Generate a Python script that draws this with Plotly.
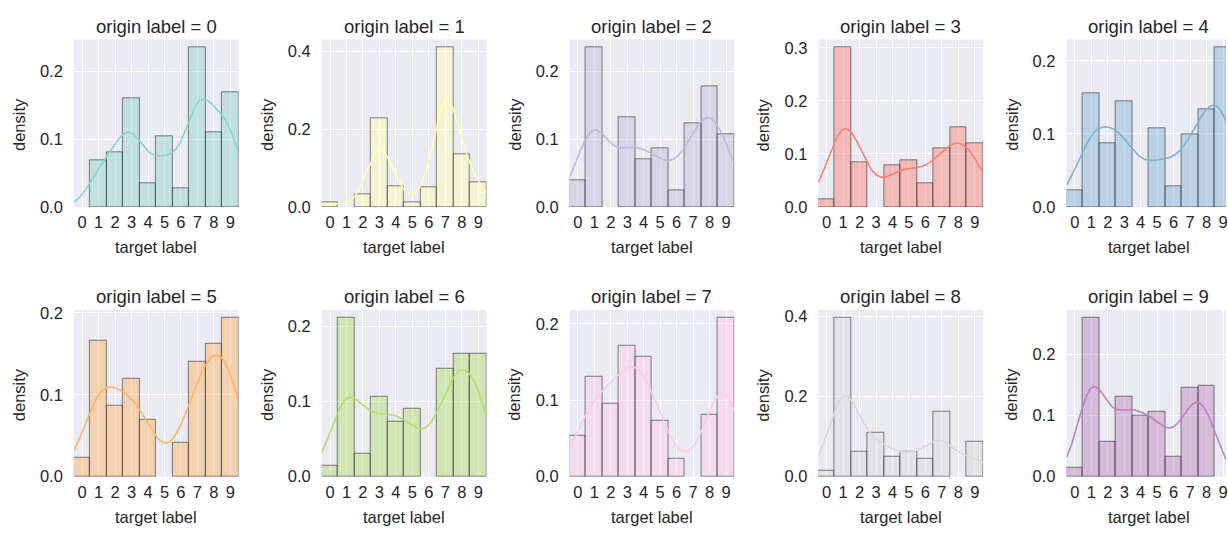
import numpy as np
import plotly.graph_objects as go

# ---------------- data ----------------
targets = list(range(10))
tick_labels = [str(t) for t in targets]
origin_labels = list(range(10))

palette = ["#8DD3C7", "#FFFFB3", "#BEBADA", "#FB8072", "#80B1D3",
           "#FDB462", "#B3DE69", "#FCCDE5", "#D9D9D9", "#BC80BD"]

prob_origin_0 = [0.000, 0.069, 0.080, 0.161, 0.035, 0.105, 0.028, 0.236, 0.111, 0.169]
prob_origin_1 = [0.0125, 0.000, 0.032, 0.227, 0.053, 0.012, 0.051, 0.410, 0.134, 0.063]
prob_origin_2 = [0.039, 0.236, 0.000, 0.133, 0.071, 0.086, 0.025, 0.123, 0.179, 0.108]
prob_origin_3 = [0.014, 0.301, 0.084, 0.000, 0.078, 0.088, 0.044, 0.111, 0.151, 0.120]
prob_origin_4 = [0.023, 0.155, 0.087, 0.144, 0.000, 0.108, 0.028, 0.100, 0.134, 0.2185]
prob_origin_5 = [0.0235, 0.166, 0.086, 0.120, 0.069, 0.000, 0.041, 0.140, 0.162, 0.194]
prob_origin_6 = [0.014, 0.2115, 0.031, 0.107, 0.0735, 0.090, 0.000, 0.143, 0.163, 0.163]
prob_origin_7 = [0.054, 0.131, 0.095, 0.171, 0.157, 0.073, 0.023, 0.000, 0.081, 0.208]
prob_origin_8 = [0.014, 0.396, 0.061, 0.110, 0.051, 0.061, 0.046, 0.162, 0.000, 0.086]
prob_origin_9 = [0.015, 0.260, 0.057, 0.130, 0.099, 0.107, 0.032, 0.145, 0.148, 0.000]

probabilities = [prob_origin_0, prob_origin_1, prob_origin_2, prob_origin_3, prob_origin_4,
                 prob_origin_5, prob_origin_6, prob_origin_7, prob_origin_8, prob_origin_9]

ytick_steps = [0.1, 0.2, 0.1, 0.1, 0.1, 0.1, 0.1, 0.1, 0.2, 0.1]

# ---------------- layout geometry (pixels) ----------------
W, H = 1228, 535
col_left = [74.0, 322.3, 570.5, 819.7, 1068.3]
panel_w = 165.0
row_top = [34.3, 312.5]
row_bottom = [206.7, 484.3]

FONT = "Liberation Sans, Arial, Helvetica, sans-serif"
TXT = "#262626"


def py(y_px):
    """pixel y (from top) -> paper fraction"""
    return 1 - y_px / H


def kde_curve(weights, grid, n_obs=300):
    x = np.array(targets, dtype=float)
    w = np.array(weights, dtype=float)
    w = w / w.sum()
    mean = (w * x).sum()
    std = np.sqrt((w * (x - mean) ** 2).sum())
    h = std * n_obs ** (-0.2)
    z = (grid[:, None] - x[None, :]) / h
    return (w[None, :] * np.exp(-0.5 * z ** 2)).sum(axis=1) / (h * np.sqrt(2 * np.pi))


def rgba(hexc, a):
    hexc = hexc.lstrip("#")
    r, g, b = int(hexc[0:2], 16), int(hexc[2:4], 16), int(hexc[4:6], 16)
    return f"rgba({r},{g},{b},{a})"


fig = go.Figure()
annotations = []
layout_axes = {}

for k, origin in enumerate(origin_labels):
    row, col = divmod(k, 5)
    probs = probabilities[k]
    color = palette[k]
    sfx = "" if k == 0 else str(k + 1)
    xa, ya = "x" + sfx, "y" + sfx

    left_px = col_left[col]
    right_px = min(left_px + panel_w, W)
    xmax = -0.5 + 10.0 * (right_px - left_px) / panel_w

    fig.add_trace(go.Bar(
        x=targets, y=probs, width=1.0,
        marker=dict(color=rgba(color, 0.45),
                    line=dict(color="rgba(30,30,30,0.55)",
                              width=[1 if v > 0 else 0 for v in probs])),
        xaxis=xa, yaxis=ya, showlegend=False, hoverinfo="x+y",
    ))
    grid = np.linspace(-0.5, 9.5, 300)
    fig.add_trace(go.Scatter(
        x=grid, y=kde_curve(probs, grid), mode="lines",
        line=dict(color=color, width=1.6), xaxis=xa, yaxis=ya,
        showlegend=False, hoverinfo="skip",
    ))

    ymax = max(probs) * 1.05
    step = ytick_steps[k]
    yticks = list(np.arange(0, ymax + 1e-9, step))

    layout_axes["xaxis" + sfx] = dict(
        domain=[left_px / W, right_px / W], anchor=ya,
        range=[-0.5, xmax], tickmode="array", tickvals=targets, ticktext=tick_labels,
        showgrid=True, gridcolor="white", gridwidth=1, zeroline=False,
        showline=False, ticks="", ticklabelstandoff=4, ticklabeloverflow="allow",
        tickfont=dict(family=FONT, size=16.5, color=TXT), fixedrange=True,
    )
    layout_axes["yaxis" + sfx] = dict(
        domain=[py(row_bottom[row]), py(row_top[row])], anchor=xa,
        range=[0, ymax], tickmode="array", tickvals=yticks,
        ticktext=[f"{v:.1f}" for v in yticks],
        showgrid=True, gridcolor="white", gridwidth=1, zeroline=False,
        showline=False, ticks="", ticklabelstandoff=10,
        tickfont=dict(family=FONT, size=16.5, color=TXT), fixedrange=True,
    )

    cx = (left_px + panel_w / 2) / W
    annotations.append(dict(
        text=f"origin label = {origin}", x=cx, y=py(row_top[row] - 13.5),
        xref="paper", yref="paper", xanchor="center", yanchor="middle",
        showarrow=False, font=dict(family=FONT, size=18.5, color=TXT)))
    annotations.append(dict(
        text="target label", x=cx, y=py(row_bottom[row] + 41.5),
        xref="paper", yref="paper", xanchor="center", yanchor="middle",
        showarrow=False, font=dict(family=FONT, size=16.5, color=TXT)))
    annotations.append(dict(
        text="density", x=(left_px - 55.5) / W,
        y=py((row_top[row] + row_bottom[row]) / 2 + 1.5),
        xref="paper", yref="paper", xanchor="center", yanchor="middle",
        textangle=-90, showarrow=False, font=dict(family=FONT, size=16.5, color=TXT)))

fig.update_layout(
    width=W, height=H, margin=dict(l=0, r=0, t=0, b=0),
    paper_bgcolor="white", plot_bgcolor="#EAEAF2",
    bargap=0, showlegend=False, annotations=annotations,
    font=dict(family=FONT, color=TXT),
    **layout_axes,
)

fig.write_html(
    "out.html",
    config={"displayModeBar": False},
    post_script=("document.body.style.margin='0px';"
                 "document.body.style.overflow='hidden';"
                 "document.documentElement.style.overflow='hidden';"),
)
